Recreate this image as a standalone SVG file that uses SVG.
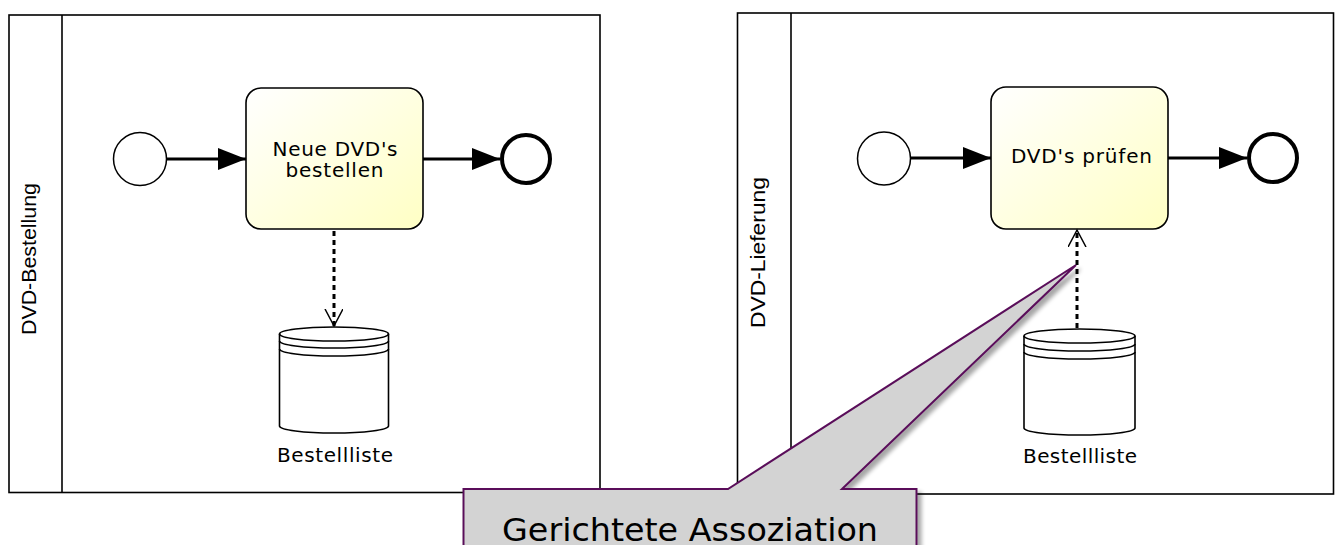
<svg xmlns="http://www.w3.org/2000/svg" width="1341" height="545" viewBox="0 0 1341 545">
<style>
.pool{fill:#fff;stroke:#000;stroke-width:1.6}
.lane{stroke:#000;stroke-width:1.6}
.plabel{font-family:"Liberation Sans","Arial",sans-serif;font-size:19.5px;fill:#000}
.task{fill:url(#tg);stroke:#000;stroke-width:1.6}
.tlabel{font-family:"DejaVu Sans",sans-serif;font-size:20px;fill:#000;text-anchor:middle}
.start{fill:#fff;stroke:#000;stroke-width:1.5}
.end{fill:#fff;stroke:#000;stroke-width:4}
.flow{fill:none;stroke:#000;stroke-width:3}
.assoc{fill:none;stroke:#000;stroke-width:3;stroke-dasharray:5 4}
.ds{fill:#fff;stroke:#000;stroke-width:1.6}
.dsl{fill:none;stroke:#000;stroke-width:1.6}
.callout{fill:#d3d3d3;stroke:#5a105a;stroke-width:2}
.ctext{font-family:"DejaVu Sans",sans-serif;font-size:32px;fill:#000}
</style>
<defs>
<linearGradient id="tg" x1="0" y1="0" x2="1" y2="1">
<stop offset="0" stop-color="#ffffff"/>
<stop offset="1" stop-color="#ffffc4"/>
</linearGradient>
<marker id="seq" markerUnits="userSpaceOnUse" markerWidth="30" markerHeight="24" refX="28" refY="11" orient="auto">
<path d="M0,0 L28,11 L0,22 Z" fill="#000"/>
</marker>
<marker id="open" markerUnits="userSpaceOnUse" markerWidth="22" markerHeight="22" refX="17" refY="9" orient="auto">
<path d="M0,0 L17,9 L0,18" fill="none" stroke="#000" stroke-width="1.5"/>
</marker>
<filter id="sh" x="-10%" y="-10%" width="130%" height="130%">
<feGaussianBlur in="SourceAlpha" stdDeviation="2"/>
<feOffset dx="4" dy="4"/>
<feComponentTransfer><feFuncA type="linear" slope="0.35"/></feComponentTransfer>
<feMerge><feMergeNode/><feMergeNode in="SourceGraphic"/></feMerge>
</filter>
</defs>

<g id="pool-bestellung">
<rect class="pool" x="9" y="15" width="591" height="477.5"/>
<line class="lane" x1="62" y1="15" x2="62" y2="492.5"/>
<text class="plabel" transform="translate(36,259) rotate(-90)" text-anchor="middle" textLength="152" lengthAdjust="spacingAndGlyphs">DVD-Bestellung</text>
</g>

<g id="pool-lieferung">
<rect class="pool" x="737.5" y="13" width="596" height="481"/>
<line class="lane" x1="791" y1="13" x2="791" y2="494"/>
<text class="plabel" transform="translate(765,252.5) rotate(-90)" text-anchor="middle" textLength="151" lengthAdjust="spacingAndGlyphs">DVD-Lieferung</text>
</g>

<g id="start1"><circle class="start" cx="140" cy="159" r="26.5"/></g>
<g id="task1">
<rect class="task" x="246" y="88" width="177" height="141" rx="15"/>
<text class="tlabel" x="335" y="155.5" textLength="125" lengthAdjust="spacing">Neue DVD's</text>
<text class="tlabel" x="334.5" y="177" textLength="98" lengthAdjust="spacing">bestellen</text>
</g>
<g id="end1"><circle class="end" cx="526" cy="159" r="24"/></g>
<g id="ds1">
<path class="ds" d="M279.5,334 A54.5,7 0 0 1 388.5,334 L388.5,426 A54.5,7 0 0 1 279.5,426 Z"/>
<path class="dsl" d="M279.5,334 A54.5,7 0 0 0 388.5,334 M279.5,341 A54.5,7 0 0 0 388.5,341 M279.5,349 A54.5,7 0 0 0 388.5,349"/>
<text class="tlabel" x="335" y="461.5" textLength="116" lengthAdjust="spacing">Bestellliste</text>
</g>

<g id="start2"><circle class="start" cx="884" cy="158.5" r="26.5"/></g>
<g id="task2">
<rect class="task" x="991" y="87" width="177" height="142" rx="15"/>
<text class="tlabel" x="1081.5" y="163" textLength="141" lengthAdjust="spacing">DVD's prüfen</text>
</g>
<g id="end2"><circle class="end" cx="1273" cy="158" r="24"/></g>
<g id="ds2">
<path class="ds" d="M1024,336 A55.5,7 0 0 1 1135,336 L1135,428 A55.5,7 0 0 1 1024,428 Z"/>
<path class="dsl" d="M1024,336 A55.5,7 0 0 0 1135,336 M1024,344 A55.5,7 0 0 0 1135,344 M1024,352 A55.5,7 0 0 0 1135,352"/>
<text class="tlabel" x="1080" y="463" textLength="114" lengthAdjust="spacing">Bestellliste</text>
</g>

<g id="connectors">
<line class="flow" x1="166.5" y1="159" x2="246" y2="159" marker-end="url(#seq)"/>
<line class="flow" x1="423" y1="159" x2="500" y2="159" marker-end="url(#seq)"/>
<line class="flow" x1="910.5" y1="158" x2="991" y2="158" marker-end="url(#seq)"/>
<line class="flow" x1="1168" y1="158" x2="1247" y2="158" marker-end="url(#seq)"/>
<line class="assoc" x1="334" y1="231" x2="334" y2="326" marker-end="url(#open)"/>
<line class="assoc" x1="1077" y1="328" x2="1077" y2="230" marker-end="url(#open)"/>
</g>

<g id="callout">
<path class="callout" filter="url(#sh)" d="M463.5,489 L728,489 L1076,265 L842,489 L916.5,489 L916.5,560 L463.5,560 Z"/>
<text class="ctext" x="502" y="541" textLength="376" lengthAdjust="spacingAndGlyphs">Gerichtete Assoziation</text>
</g>
</svg>
